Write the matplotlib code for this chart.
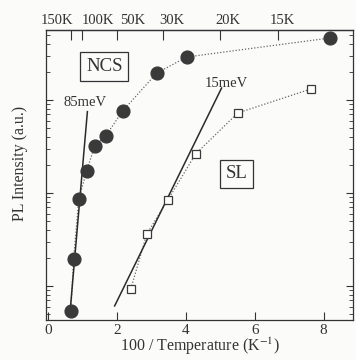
import numpy as np
import matplotlib
matplotlib.use("Agg")
import matplotlib.pyplot as plt
from matplotlib.transforms import ScaledTranslation

plt.rcParams['font.family'] = ['Liberation Serif', 'DejaVu Serif']
plt.rcParams['mathtext.fontset'] = 'stix'

# NCS: 100/T (K^-1) and PL intensity (a.u.)
ncs_x = [0.67, 0.75, 0.90, 1.13, 1.36, 1.68, 2.17, 3.16, 4.03, 8.17]
ncs_y = [0.54, 1.95, 8.6, 17.2, 32, 41, 76, 195, 290, 464]

# SL: 100/T (K^-1) and PL intensity (a.u.)
sl_x = [2.41, 2.87, 3.48, 4.29, 5.51, 7.62]
sl_y = [0.93, 3.6, 8.4, 26.3, 72.5, 131]

# Arrhenius fits: activation energy (meV), anchor point, x range
fit_energy = [85, 15]
fit_anchor = [(0.64, 10 ** -0.31), (1.94, 10 ** -0.215)]
fit_range = [(0.64, 1.15), (1.94, 5.04)]

top_temps = [150, 100, 50, 30, 20, 15]
top_labels = ['150K', '100K', '50K', '30K', '20K', '15K']
bottom_ticks = [0, 2, 4, 6, 8]

k_B = 8.617e-5  # eV/K
ink = '#333333'

fig = plt.figure(figsize=(3.56, 3.60), dpi=100)
fig.patch.set_facecolor('#fbfbfa')
ax = fig.add_axes([46 / 356, 40 / 360, 307 / 356, 290 / 360])
ax.set_facecolor('#fbfbfa')

ax.set_yscale('log')
ax.set_xlim(-0.05, 8.85)
ax.set_ylim(0.43, 566)

# connecting dotted curves and markers
ax.plot(ncs_x, ncs_y, ls=(0, (1, 1.5)), color='#666666', lw=0.9, zorder=2)
ax.plot(sl_x, sl_y, ls=(0, (1, 1.5)), color='#666666', lw=0.9, zorder=2)
ax.plot(ncs_x, ncs_y, 'o', ms=9.2, color='#3a3a3a', zorder=4)
ax.plot(sl_x, sl_y, 's', ms=5.8, mfc='white', mec='#3a3a3a', mew=0.9, zorder=4)

# activation-energy lines: log10 I = E/(k*100*ln10) * x + c
for E, (x0, y0), (xa, xb) in zip(fit_energy, fit_anchor, fit_range):
    slope = (E * 1e-3) / (k_B * 100 * np.log(10))
    xs = np.array([xa, xb])
    ys = y0 * 10 ** (slope * (xs - x0))
    ax.plot(xs, ys, color='#2a2a2a', lw=1.1, zorder=3)

ax.text(1.08, 95, '85meV', fontsize=10.5, color=ink, ha='center', va='center')
ax.text(5.17, 152, '15meV', fontsize=10.5, color=ink, ha='center', va='center')
ax.text(1.64, 229, 'NCS', fontsize=13.5, color=ink, ha='center', va='center',
        bbox=dict(boxstyle='square,pad=0.3', fc='none', ec=ink, lw=0.9))
ax.text(5.48, 16, 'SL', fontsize=13.5, color=ink, ha='center', va='center',
        bbox=dict(boxstyle='square,pad=0.3', fc='none', ec=ink, lw=0.9))

ax.set_xticks(bottom_ticks)
ax.set_xticklabels([str(t) for t in bottom_ticks])
ax.yaxis.set_major_formatter(matplotlib.ticker.NullFormatter())
ax.yaxis.set_minor_formatter(matplotlib.ticker.NullFormatter())
ax.tick_params(axis='both', which='both', direction='in', colors=ink,
               labelsize=11, right=True)
ax.tick_params(axis='x', which='major', length=6, width=0.8, pad=3)
ax.tick_params(axis='y', which='major', length=5, width=0.8)
ax.tick_params(axis='y', which='minor', length=3, width=0.6)

sec = ax.secondary_xaxis('top')
sec.set_xticks([100 / t for t in top_temps])
sec.set_xticklabels(top_labels)
sec.tick_params(direction='in', length=7, width=0.8, colors=ink,
                labelsize=10.5, pad=2)
# nudge the crowded temperature labels apart
nudges = [-14, 16, 16, 9, 8, 5]
for lbl, dx in zip(sec.get_xticklabels(), nudges):
    lbl.set_transform(lbl.get_transform() +
                      ScaledTranslation(dx / 100, 0, fig.dpi_scale_trans))
for s in list(ax.spines.values()) + list(sec.spines.values()):
    s.set_color(ink)
    s.set_linewidth(0.9)

ax.set_xlabel('100 / Temperature (K$^{-1}$)', fontsize=11.5, color=ink, labelpad=-1)
ax.set_ylabel('PL Intensity (a.u.)', fontsize=11.5, color=ink)
ax.yaxis.set_label_coords(-0.06, 0.54)

fig.savefig('out.png', dpi=100, facecolor=fig.get_facecolor())
